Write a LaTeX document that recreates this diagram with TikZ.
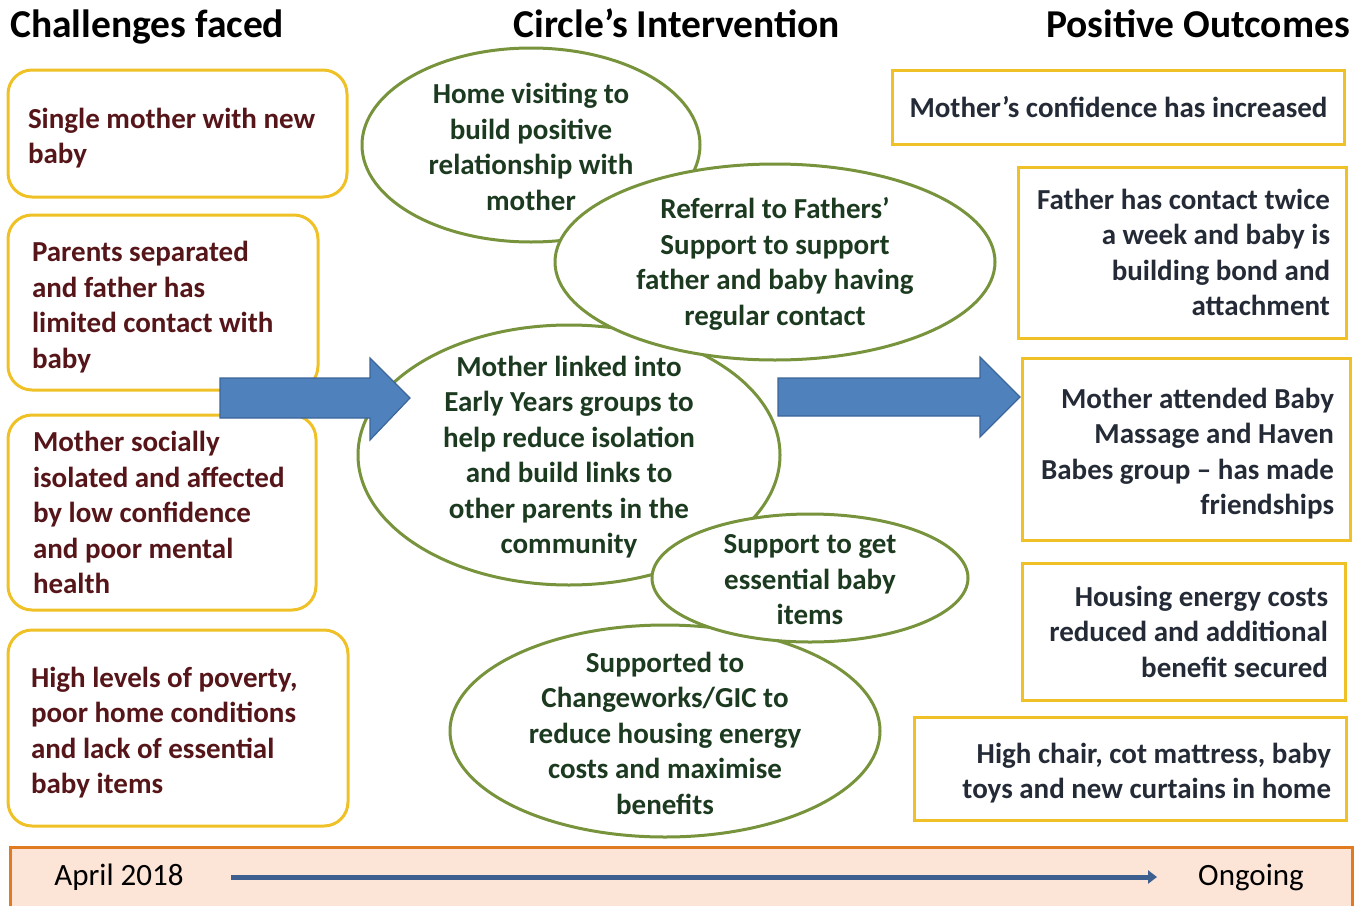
\documentclass[tikz,border=0pt]{standalone}
\usepackage{fontspec}
\setmainfont{Carlito}
\usetikzlibrary{shapes.geometric}
\usetikzlibrary{arrows.meta}
\definecolor{gold}{HTML}{EFC126}
\definecolor{olive}{HTML}{77933C}
\definecolor{challengeText}{HTML}{561519}
\definecolor{actionText}{HTML}{1C3A20}
\definecolor{outcomeText}{HTML}{242B36}
\definecolor{arrowBlue}{HTML}{4F81BD}
\definecolor{arrowEdge}{HTML}{3C6599}
\definecolor{peach}{HTML}{FCE4D6}
\definecolor{orangeEdge}{HTML}{E07B22}
\definecolor{timeBlue}{HTML}{3D5F8F}
\newcommand{\bodyfont}{\bfseries\fontsize{29}{35.5}\selectfont}
\newcommand{\headfont}{\bfseries\fontsize{39.5}{44}\selectfont}
\tikzset{challenge/.style={draw=gold, line width=3pt, rounded corners=24pt, fill=white, text=challengeText, align=flush left, inner ysep=0pt, font=\bodyfont}}
\tikzset{outcome/.style={draw=gold, line width=3pt, fill=white, text=outcomeText, align=flush right, inner ysep=0pt, font=\bodyfont}}
\tikzset{lower/.style={execute at begin node={\rule{0pt}{30pt}}}}
\tikzset{action/.style={ellipse, draw=olive, line width=3pt, fill=white, inner sep=0pt}}
\tikzset{actiontext/.style={text=actionText, align=center, yshift=-2pt, font=\bodyfont}}
\tikzset{blockarrow/.style={fill=arrowBlue, draw=arrowEdge, line width=1.2pt}}

\begin{document}
\begin{tikzpicture}[x=1pt, y=-1pt]
    \useasboundingbox (0,0) rectangle (1365,905);
    % headings
    \node [font=\headfont, anchor=base west, inner sep=0pt] (challenges) at (10,37) {Challenges faced};
    \node [font=\headfont, anchor=base, inner sep=0pt] (intervention) at (677,37) {Circle's Intervention};
    \node [font=\headfont, anchor=base east, inner sep=0pt] (outcomes) at (1350,37) {Positive Outcomes};
    % challenges
    \node [challenge, lower, minimum width=339, minimum height=127, inner xsep=20, text width=299] (single) at (177.5,133.5)
      {Single mother with new\\baby};
    \node [challenge, lower, minimum width=310, minimum height=175, inner xsep=24, text width=262] (separated) at (163,302.5)
      {Parents separated\\and father has\\limited contact with\\baby};
    \node [challenge, minimum width=308, minimum height=195, inner xsep=25, text width=258] (isolated) at (162,512.5)
      {Mother socially\\isolated and affected\\by low confidence\\and poor mental\\health};
    \node [challenge, lower, minimum width=340, minimum height=196, inner xsep=23, text width=294] (poverty) at (178,728)
      {High levels of poverty,\\poor home conditions\\and lack of essential\\baby items};
    % intervention
    \node [action, minimum width=338, minimum height=194] (home) at (531,145) {};
    \node [actiontext] (homeText) at (home) {Home visiting to\\build positive\\relationship with\\mother};
    \node [action, minimum width=422, minimum height=260] (groups) at (569,455) {};
    \node [actiontext] (groupsText) at (groups) {Mother linked into\\Early Years groups to\\help reduce isolation\\and build links to\\other parents in the\\community};
    \node [action, minimum width=440, minimum height=196] (referral) at (775,262) {};
    \node [actiontext] (referralText) at (referral) {Referral to Fathers'\\Support to support\\father and baby having\\regular contact};
    \node [action, minimum width=430, minimum height=212] (energy) at (665,731) {};
    \node [actiontext] (energyText) at (energy) {Supported to\\Changeworks/GIC to\\reduce housing energy\\costs and maximise\\benefits};
    \node [action, minimum width=316, minimum height=128] (items) at (810,578) {};
    \node [actiontext] (itemsText) at (items) {Support to get\\essential baby\\items};
    % outcomes
    \node [outcome, minimum width=451, minimum height=74, inner xsep=17] (confidence) at (1118.5,107)
      {Mother's confidence has increased};
    \node [outcome, minimum width=328, minimum height=171, inner xsep=16, text width=296] (contact) at (1182,252.5)
      {Father has contact twice\\a week and baby is\\building bond and\\attachment};
    \node [outcome, lower, minimum width=328, minimum height=182, inner xsep=16, text width=296] (friends) at (1186,449)
      {Mother attended Baby\\Massage and Haven\\Babes group -- has made\\friendships};
    \node [outcome, minimum width=323, minimum height=137, inner xsep=17, text width=289] (costs) at (1183.5,631.5)
      {Housing energy costs\\reduced and additional\\benefit secured};
    \node [outcome, lower, minimum width=432, minimum height=103, inner xsep=15, text width=402] (goods) at (1130,768.5)
      {High chair, cot mattress, baby\\toys and new curtains in home};
    % block arrows
    \draw [blockarrow] (220,378) -- (370,378) -- (370,358) -- (410,398) -- (370,440) -- (370,418) -- (220,418) -- cycle;
    \draw [blockarrow] (778,378) -- (980,378) -- (980,357) -- (1020,397) -- (980,437) -- (980,416) -- (778,416) -- cycle;
    % timeline
    \node [draw=orangeEdge, fill=peach, line width=3pt, minimum width=1342, minimum height=72, anchor=north west] (timeline) at (9,846) {};
    \node [font=\fontsize{31}{34}\selectfont, inner sep=0pt] (start) at (119,877) {April 2018};
    \node [font=\fontsize{31}{34}\selectfont, inner sep=0pt] (finish) at (1251,877) {Ongoing};
    \draw [timeBlue, line width=5pt, -{Triangle[length=9pt, width=13pt]}] ([xshift=47pt]start.east) -- ([xshift=-41pt]finish.west);
\end{tikzpicture}
\end{document}
